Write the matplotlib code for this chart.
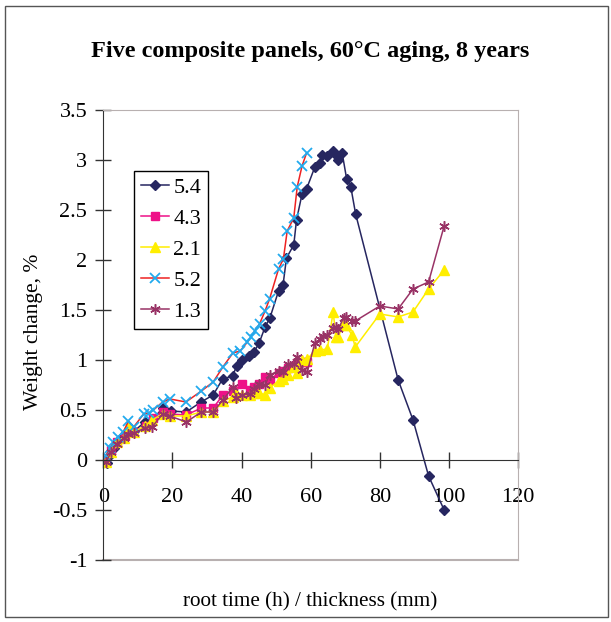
import matplotlib
matplotlib.use("Agg")
import matplotlib.pyplot as plt
from matplotlib.patches import Rectangle

plt.rcParams['font.family'] = ['Liberation Serif', 'DejaVu Serif']
plt.rcParams['axes.unicode_minus'] = False

# panel 5.4
x54 = [1.2, 2.0, 3.0, 4.3, 6.0, 7.5, 9.0, 12.0, 14.0, 17.3, 19.5, 24.0, 28.3, 31.8, 34.5,
       37.4, 38.6, 40.2, 42.2, 43.6, 45.1, 46.8, 48.2, 50.7, 52.0, 53.0, 55.1, 55.9, 57.5,
       58.8, 61.2, 62.7, 63.4, 64.8, 66.5, 67.2, 68.0, 69.1, 70.4, 71.6, 73.0, 85.3, 89.6,
       94.1, 98.6]
y54 = [-0.03, 0.05, 0.12, 0.19, 0.24, 0.28, 0.29, 0.38, 0.40, 0.52, 0.49, 0.48, 0.58, 0.65,
       0.81, 0.84, 0.94, 1.00, 1.04, 1.08, 1.17, 1.33, 1.42, 1.69, 1.75, 2.02, 2.15, 2.40,
       2.66, 2.71, 2.93, 2.97, 3.05, 3.04, 3.09, 3.05, 3.00, 3.07, 2.81, 2.73, 2.46, 0.80,
       0.40, -0.16, -0.50]

# panel 4.3
x43 = [0.6, 2.3, 3.9, 6.2, 8.5, 12.4, 14.3, 17.2, 19.2, 24.0, 28.4, 31.8, 34.6, 37.5, 40.2,
       42.3, 43.6, 45.1, 46.8, 48.1, 50.7, 52.1, 53.5, 55.2, 56.1, 57.6, 59.0]
y43 = [0.00, 0.10, 0.18, 0.24, 0.28, 0.34, 0.42, 0.48, 0.46, 0.45, 0.52, 0.52, 0.65, 0.69,
       0.76, 0.70, 0.73, 0.76, 0.83, 0.80, 0.87, 0.89, 0.92, 0.94, 0.97, 0.98, 0.98]

# panel 2.1
x21 = [0.8, 2.3, 3.9, 6.0, 7.3, 9.0, 12.0, 14.1, 17.2, 19.2, 24.0, 28.4, 31.8, 34.6, 37.5,
       38.5, 40.2, 42.3, 43.6, 45.1, 46.8, 48.1, 50.7, 52.1, 53.5, 55.2, 56.1, 57.6, 59.0,
       61.2, 62.8, 64.8, 66.5, 67.3, 68.0, 69.3, 70.2, 71.9, 72.9, 80.0, 85.3, 89.6, 94.1,
       98.6]
y21 = [-0.02, 0.08, 0.18, 0.22, 0.34, 0.28, 0.34, 0.40, 0.46, 0.44, 0.44, 0.48, 0.48, 0.59,
       0.63, 0.67, 0.65, 0.65, 0.67, 0.67, 0.65, 0.72, 0.79, 0.81, 0.85, 0.93, 0.87, 1.00,
       1.01, 1.09, 1.10, 1.11, 1.48, 1.23, 1.23, 1.35, 1.35, 1.25, 1.13, 1.46, 1.43, 1.48,
       1.71, 1.90]

# panel 5.2
x52 = [0.8, 2.0, 2.9, 4.3, 5.8, 7.3, 8.8, 11.7, 13.3, 14.5, 17.2, 19.3, 23.9, 28.4, 31.8,
       34.6, 37.5, 39.6, 41.7, 42.7, 43.8, 45.2, 46.8, 48.1, 50.7, 52.1, 53.2, 55.1, 56.1,
       57.5, 58.8]
y52 = [0.04, 0.12, 0.18, 0.23, 0.28, 0.39, 0.33, 0.46, 0.47, 0.50, 0.58, 0.61, 0.58, 0.69,
       0.78, 0.93, 1.07, 1.09, 1.18, 1.23, 1.29, 1.36, 1.49, 1.61, 1.91, 2.01, 2.29, 2.42,
       2.73, 2.94, 3.07]

# panel 1.3
x13 = [0.8, 2.3, 3.9, 6.0, 7.3, 9.0, 12.0, 14.1, 17.2, 19.2, 24.0, 28.4, 31.8, 34.6, 37.5,
       38.5, 40.2, 42.3, 43.6, 45.1, 46.8, 48.1, 50.7, 52.1, 53.5, 55.2, 56.1, 57.6, 59.0,
       61.2, 62.8, 63.6, 64.8, 66.5, 67.3, 68.0, 69.5, 70.2, 71.9, 72.9, 80.0, 85.3, 89.6,
       94.1, 98.6]
y13 = [-0.02, 0.08, 0.16, 0.22, 0.26, 0.27, 0.32, 0.33, 0.46, 0.44, 0.38, 0.48, 0.48, 0.60,
       0.73, 0.62, 0.65, 0.66, 0.71, 0.76, 0.75, 0.85, 0.89, 0.88, 0.96, 0.96, 1.03, 0.90,
       0.88, 1.17, 1.21, 1.24, 1.25, 1.32, 1.33, 1.31, 1.42, 1.43, 1.39, 1.39, 1.54, 1.51,
       1.71, 1.78, 2.34]

xticks = [0, 20, 40, 60, 80, 100, 120]
yticks = [-1, -0.5, 0, 0.5, 1, 1.5, 2, 2.5, 3, 3.5]
ytick_labels = ['-1', '-0.5', '0', '0.5', '1', '1.5', '2', '2.5', '3', '3.5']

fs = 16
border = '#b8b0b0'
axis_col = '#333333'

fig = plt.figure(figsize=(6.11, 6.22), dpi=100)
ax = fig.add_axes([0.169, 0.0997, 0.679, 0.7235])

ax.plot(x54, y54, color='#262660', lw=1.1, marker='D', ms=5, label='5.4')
ax.plot(x43, y43, color='#ee1188', lw=1.1, marker='s', ms=6, label='4.3')
ax.plot(x21, y21, color='#ffee00', lw=1.1, marker='^', ms=7.5, label='2.1')
ax.plot(x52, y52, color='#ee2222', lw=1.1, marker='x', ms=6.5, mew=1.3,
        mec='#22aaee', label='5.2')
ax.plot(x13, y13, color='#993366', lw=1.1, marker=(6, 2, 0), ms=7.5, mew=1.1, label='1.3')

ax.set_xlim(0, 120)
ax.set_ylim(-1, 3.5)
ax.set_xticks(xticks)
ax.set_yticks(yticks)
ax.set_yticklabels(ytick_labels)

# x axis runs through zero, plot area outlined in grey
ax.spines['bottom'].set_position(('data', 0))
ax.spines['bottom'].set_color(axis_col)
ax.spines['left'].set_color(axis_col)
ax.spines['top'].set_color(border)
ax.spines['right'].set_color(border)
ax.axhline(-1, color=border, lw=1.5, clip_on=False, zorder=0)
ax.tick_params(axis='both', direction='inout', length=11, width=1, color=axis_col,
               labelsize=fs)
ax.tick_params(axis='x', pad=15)
ax.tick_params(axis='y', pad=6)

leg = ax.legend(loc='upper left', bbox_to_anchor=(0.22, 0.7257),
                bbox_transform=fig.transFigure, borderaxespad=0, fontsize=fs,
                fancybox=False, framealpha=1, edgecolor='black', handlelength=1.25,
                handletextpad=0.2, labelspacing=0.47, borderpad=0.3)
leg.get_frame().set_linewidth(1.0)

fig.text(0.508, 0.918, 'Five composite panels, 60°C aging, 8 years', ha='center',
         va='center', fontsize=17.5, fontweight='bold')
fig.text(0.507, 0.033, 'root time (h) / thickness (mm)', ha='center', va='center',
         fontsize=15.2)
fig.text(0.055, 0.466, 'Weight change, %', ha='center', va='center', rotation=90,
         fontsize=15.5)

fig.patches.append(Rectangle((0.008, 0.008), 0.987, 0.982, transform=fig.transFigure,
                             fill=False, edgecolor='#555555', lw=1.0))

fig.savefig('out.png', dpi=100)
